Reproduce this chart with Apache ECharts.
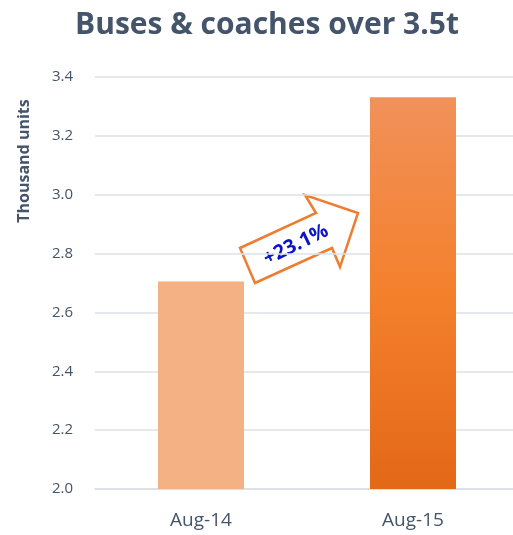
<!DOCTYPE html>
<html><head><meta charset="utf-8">
<script src="https://cdn.jsdelivr.net/npm/echarts@6/dist/echarts.min.js"></script>
<style>html,body{margin:0;padding:0;background:#fff}#c{width:513px;height:535px}</style>
</head><body><div id="c"></div>
<script>
const categories = ['Aug-14', 'Aug-15'];
const values = [2.705, 3.331];
const yTicks = [2.0, 2.2, 2.4, 2.6, 2.8, 3.0, 3.2, 3.4];
const changeLabel = '+23.1%';

const chart = echarts.init(document.getElementById('c'));
const txt = '#44546A';
const font = '"Open Sans", Lato, sans-serif';
chart.setOption({
  animation: false,
  title: {
    text: 'Buses & coaches over 3.5t',
    left: 262, top: 5, textAlign: 'center',
    textStyle: {fontFamily: font, fontWeight: 'bold', fontSize: 30, color: txt}
  },
  grid: {left: 95, top: 77, width: 424, height: 412, containLabel: false, outerBoundsMode: 'none'},
  xAxis: {
    type: 'category', data: categories,
    axisLine: {show: true, lineStyle: {color: '#D9DEE4', width: 1.5}},
    axisTick: {show: false},
    axisLabel: {color: txt, fontFamily: font, fontSize: 19, margin: 22}
  },
  yAxis: {
    type: 'value', min: yTicks[0], max: yTicks[yTicks.length - 1], interval: 0.2,
    axisLine: {show: false}, axisTick: {show: false},
    splitLine: {lineStyle: {color: '#DDE2E9', width: 1.5}},
    axisLabel: {color: txt, fontFamily: font, fontSize: 15, margin: 22,
      formatter: v => v.toFixed(1)}
  },
  series: [{
    type: 'bar', barWidth: 86,
    data: [
      {value: values[0], itemStyle: {color: '#F3B184'}},
      {value: values[1], itemStyle: {color: new echarts.graphic.LinearGradient(0, 0, 0, 1, [
        {offset: 0, color: '#F1915A'},
        {offset: 0.5, color: '#F4802C'},
        {offset: 1, color: '#E36818'}
      ])}}
    ]
  }],
  graphic: [
    {
      type: 'text', x: 24, y: 161, rotation: Math.PI / 2,
      style: {text: 'Thousand units', fill: txt, fontFamily: font, fontWeight: 'bold',
        fontSize: 16, align: 'center', verticalAlign: 'middle'}
    },
    {
      type: 'polygon',
      shape: {points: [[240, 248], [316, 213], [305, 195], [358, 213], [340, 267], [332, 248], [255, 283]]},
      style: {fill: '#fff', stroke: '#ED7D31', lineWidth: 2.5, lineJoin: 'miter'}
    },
    {
      type: 'text', x: 296, y: 245, rotation: 26 * Math.PI / 180,
      style: {text: changeLabel, fill: '#0A14C8', fontFamily: font, fontWeight: 'bold',
        fontSize: 20, align: 'center', verticalAlign: 'middle'}
    }
  ]
});
</script></body></html>
